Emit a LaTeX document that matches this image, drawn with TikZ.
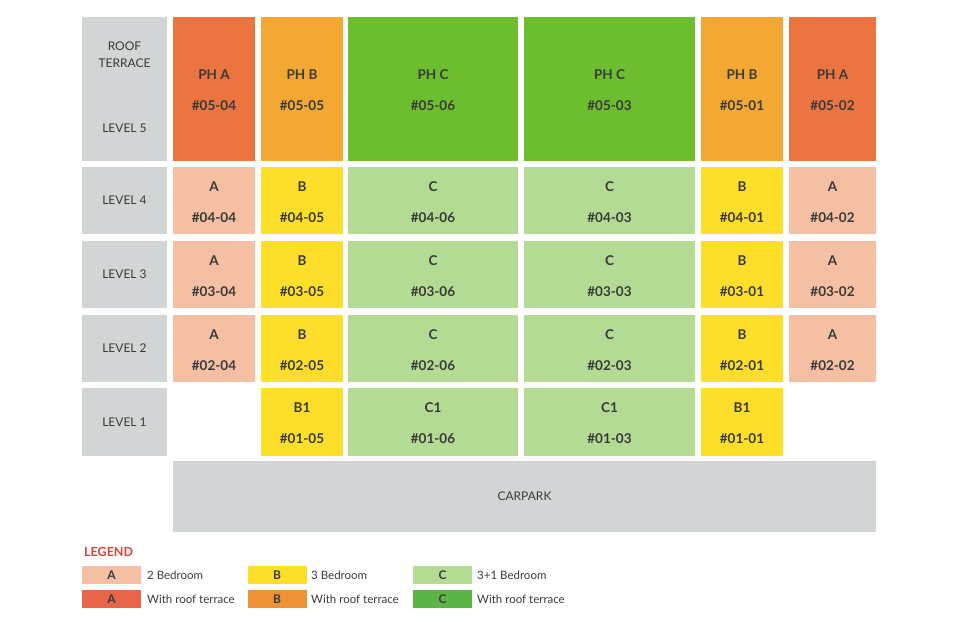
\documentclass[tikz,border=0pt]{standalone}
\usepackage{fontspec}
\setmainfont{Lato}
\definecolor{grayc}{HTML}{D1D5D5}
\definecolor{pha}{HTML}{EC7441}
\definecolor{phb}{HTML}{F3A833}
\definecolor{phc}{HTML}{6CBE2E}
\definecolor{ua}{HTML}{F4BFA2}
\definecolor{ub}{HTML}{FDDF2B}
\definecolor{uc}{HTML}{B3DB94}
\definecolor{txt}{HTML}{3A3A3A}
\definecolor{lga}{HTML}{E8654A}
\definecolor{lgb}{HTML}{EE9237}
\definecolor{lgc}{HTML}{5DB548}
\definecolor{legred}{HTML}{D9453A}
\tikzset{
  unitbox/.style={draw=none, inner sep=0pt, outer sep=0pt},
  unittext/.style={inner sep=0pt, align=center, text=txt,
    font=\bfseries\fontsize{13.5}{31}\selectfont},
  graybox/.style={draw=none, fill=grayc, inner sep=0pt, outer sep=0pt, align=center, text=txt,
    font=\fontsize{12}{17}\selectfont},
  graytext/.style={inner sep=0pt, align=center, text=txt, font=\fontsize{12}{17}\selectfont},
  legbox/.style={draw=none, inner sep=0pt, minimum width=59, minimum height=18, text=txt,
    font=\bfseries\fontsize{12}{12}\selectfont},
  legtext/.style={anchor=west, inner sep=0pt, text=txt, font=\fontsize{11.5}{12}\selectfont},
}
\newcommand\ucell[7]{\node[unitbox, fill=#6, minimum width={#4-#2}, minimum height={#5-#3}] (#1) at ({(#2+#4)/2},{(#3+#5)/2}) {};
  \node[unittext] (#1t) at ([yshift=-1.5pt]#1.center) {#7};}
\newcommand\gcell[6]{\node[graybox, minimum width={#4-#2}, minimum height={#5-#3}] (#1) at ({(#2+#4)/2},{(#3+#5)/2}) {#6};}
\begin{document}
\begin{tikzpicture}[x=1pt, y=-1pt]
\useasboundingbox[fill=white] (0,0) rectangle (960,621);
% left gray column
\gcell{roof}{82}{17}{167}{161}{}
\node[graytext] (roofl) at (124.5,54.5) {ROOF\\TERRACE};
\node[graytext] (lv5) at (124.5,128.5) {LEVEL 5};
\gcell{lv4}{82}{167}{167}{234}{LEVEL 4}
\gcell{lv3}{82}{241}{167}{308}{LEVEL 3}
\gcell{lv2}{82}{315}{167}{382}{LEVEL 2}
\gcell{lv1}{82}{388}{167}{456}{LEVEL 1}
% level 5 penthouses
\ucell{u0504}{173}{17}{255}{161}{pha}{PH A\\\#05-04}
\ucell{u0505}{261}{17}{343}{161}{phb}{PH B\\\#05-05}
\ucell{u0506}{348}{17}{518}{161}{phc}{PH C\\\#05-06}
\ucell{u0503}{524}{17}{695}{161}{phc}{PH C\\\#05-03}
\ucell{u0501}{701}{17}{783}{161}{phb}{PH B\\\#05-01}
\ucell{u0502}{789}{17}{876}{161}{pha}{PH A\\\#05-02}
% level 4
\ucell{u0404}{173}{167}{255}{234}{ua}{A\\\#04-04}
\ucell{u0405}{261}{167}{343}{234}{ub}{B\\\#04-05}
\ucell{u0406}{348}{167}{518}{234}{uc}{C\\\#04-06}
\ucell{u0403}{524}{167}{695}{234}{uc}{C\\\#04-03}
\ucell{u0401}{701}{167}{783}{234}{ub}{B\\\#04-01}
\ucell{u0402}{789}{167}{876}{234}{ua}{A\\\#04-02}
% level 3
\ucell{u0304}{173}{241}{255}{308}{ua}{A\\\#03-04}
\ucell{u0305}{261}{241}{343}{308}{ub}{B\\\#03-05}
\ucell{u0306}{348}{241}{518}{308}{uc}{C\\\#03-06}
\ucell{u0303}{524}{241}{695}{308}{uc}{C\\\#03-03}
\ucell{u0301}{701}{241}{783}{308}{ub}{B\\\#03-01}
\ucell{u0302}{789}{241}{876}{308}{ua}{A\\\#03-02}
% level 2
\ucell{u0204}{173}{315}{255}{382}{ua}{A\\\#02-04}
\ucell{u0205}{261}{315}{343}{382}{ub}{B\\\#02-05}
\ucell{u0206}{348}{315}{518}{382}{uc}{C\\\#02-06}
\ucell{u0203}{524}{315}{695}{382}{uc}{C\\\#02-03}
\ucell{u0201}{701}{315}{783}{382}{ub}{B\\\#02-01}
\ucell{u0202}{789}{315}{876}{382}{ua}{A\\\#02-02}
% level 1
\ucell{u0105}{261}{388}{343}{456}{ub}{B1\\\#01-05}
\ucell{u0106}{348}{388}{518}{456}{uc}{C1\\\#01-06}
\ucell{u0103}{524}{388}{695}{456}{uc}{C1\\\#01-03}
\ucell{u0101}{701}{388}{783}{456}{ub}{B1\\\#01-01}
% carpark
\gcell{carpark}{173}{461}{876}{532}{CARPARK}
% legend
\node[anchor=west, inner sep=0pt, text=legred, font=\bfseries\fontsize{12.5}{12}\selectfont] (leg) at (84,552) {LEGEND};
\node[legbox, fill=ua] (la) at (111.5,575) {A};
\node[legtext] (lat) at (147,575) {2 Bedroom};
\node[legbox, fill=ub] (lb) at (277,575) {B};
\node[legtext] (lbt) at (311,575) {3 Bedroom};
\node[legbox, fill=uc] (lc) at (442.5,575) {C};
\node[legtext] (lct) at (477,575) {3+1 Bedroom};
\node[legbox, fill=lga] (lra) at (111.5,599) {A};
\node[legtext] (lrat) at (147,599) {With roof terrace};
\node[legbox, fill=lgb] (lrb) at (277,599) {B};
\node[legtext] (lrbt) at (311,599) {With roof terrace};
\node[legbox, fill=lgc] (lrc) at (442.5,599) {C};
\node[legtext] (lrct) at (477,599) {With roof terrace};
\end{tikzpicture}
\end{document}
